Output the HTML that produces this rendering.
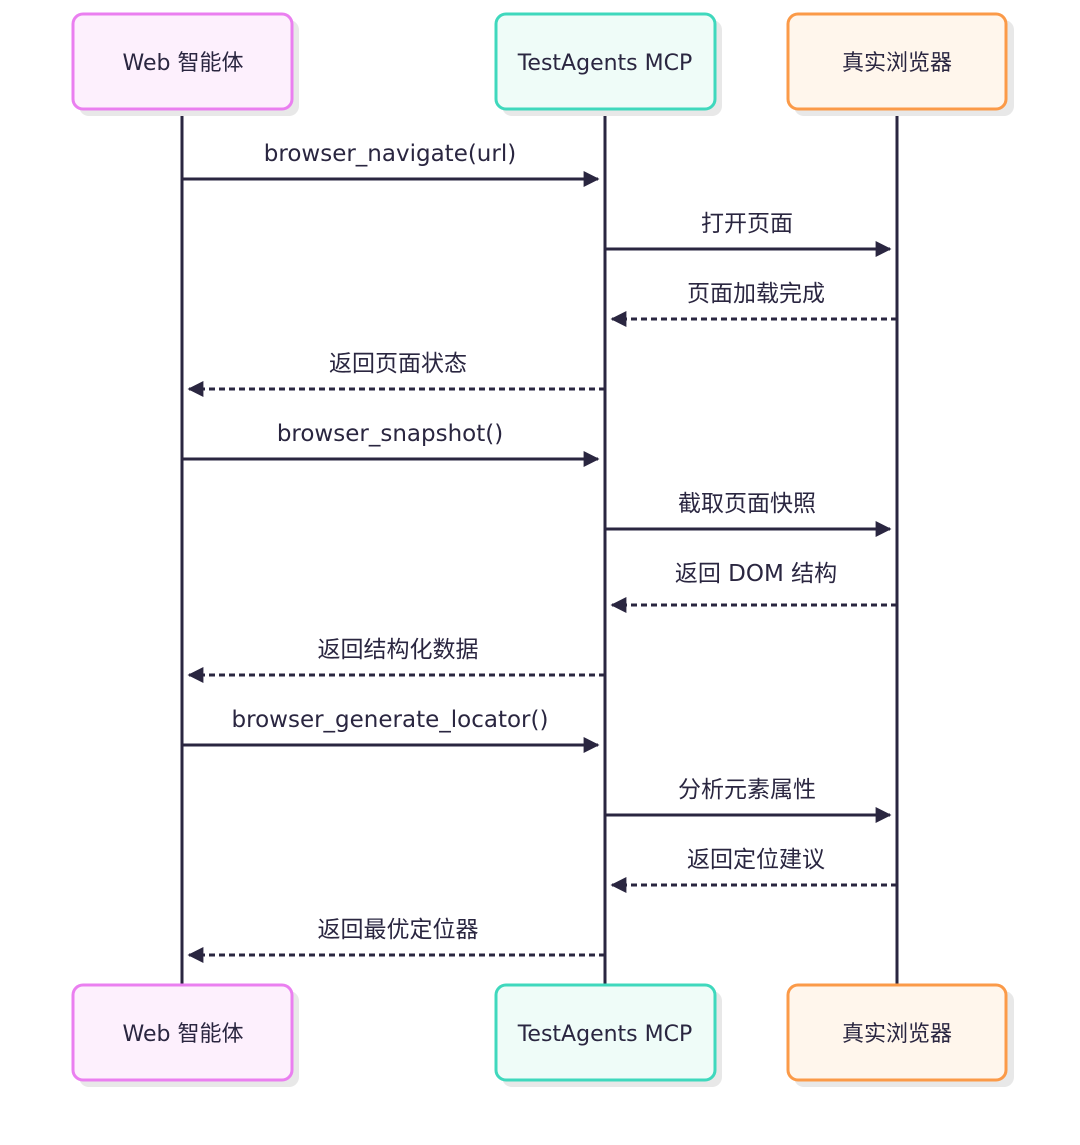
<!DOCTYPE html>
<html><head><meta charset="utf-8"><style>
html,body{margin:0;padding:0;background:#fff;}
svg text{font-family:"DejaVu Sans","Noto Sans CJK SC",sans-serif;fill:#2a2640;}
</style></head><body>
<svg width="1080" height="1140" viewBox="0 0 1080 1140" xmlns="http://www.w3.org/2000/svg">
<defs>
<marker id="a" viewBox="0 0 10 10" refX="9" refY="5" markerWidth="16" markerHeight="16" markerUnits="userSpaceOnUse" orient="auto"><path d="M0,0 L10,5 L0,10 z" fill="#2a2640"/></marker>
</defs>
<g stroke="#2a2640" stroke-width="3">
<line x1="182" y1="109" x2="182" y2="985"/>
<line x1="605" y1="109" x2="605" y2="985"/>
<line x1="897" y1="109" x2="897" y2="985"/>
</g>
<g fill="#e8e8e8">
<rect x="79" y="20" width="220" height="96" rx="10"/>
<rect x="502" y="20" width="220" height="96" rx="10"/>
<rect x="794" y="20" width="220" height="96" rx="10"/>
<rect x="79" y="991" width="220" height="96" rx="10"/>
<rect x="502" y="991" width="220" height="96" rx="10"/>
<rect x="794" y="991" width="220" height="96" rx="10"/>
</g>
<g stroke-width="3">
<rect x="73" y="14" width="219" height="95" rx="10" fill="#fdf0fd" stroke="#ea7ff0"/>
<rect x="496" y="14" width="219" height="95" rx="10" fill="#effcf8" stroke="#3fd8bd"/>
<rect x="788" y="14" width="218" height="95" rx="10" fill="#fff6ec" stroke="#fb9a48"/>
<rect x="73" y="985" width="219" height="95" rx="10" fill="#fdf0fd" stroke="#ea7ff0"/>
<rect x="496" y="985" width="219" height="95" rx="10" fill="#effcf8" stroke="#3fd8bd"/>
<rect x="788" y="985" width="218" height="95" rx="10" fill="#fff6ec" stroke="#fb9a48"/>
</g>
<g font-size="22" text-anchor="middle">
<text x="183" y="70">Web 智能体</text>
<text x="605" y="70">TestAgents MCP</text>
<text x="897" y="70">真实浏览器</text>
<text x="183" y="1041">Web 智能体</text>
<text x="605" y="1041">TestAgents MCP</text>
<text x="897" y="1041">真实浏览器</text>
</g>
<g stroke="#2a2640" stroke-width="3" marker-end="url(#a)">
<line x1="182" y1="179" x2="598" y2="179"/>
<line x1="605" y1="249" x2="890" y2="249"/>
<line x1="897" y1="319" x2="612" y2="319" stroke-dasharray="6,4"/>
<line x1="605" y1="389" x2="189" y2="389" stroke-dasharray="6,4"/>
<line x1="182" y1="459" x2="598" y2="459"/>
<line x1="605" y1="529" x2="890" y2="529"/>
<line x1="897" y1="605" x2="612" y2="605" stroke-dasharray="6,4"/>
<line x1="605" y1="675" x2="189" y2="675" stroke-dasharray="6,4"/>
<line x1="182" y1="745" x2="598" y2="745"/>
<line x1="605" y1="815" x2="890" y2="815"/>
<line x1="897" y1="885" x2="612" y2="885" stroke-dasharray="6,4"/>
<line x1="605" y1="955" x2="189" y2="955" stroke-dasharray="6,4"/>
</g>
<g font-size="23" text-anchor="middle">
<text x="390" y="161">browser_navigate(url)</text>
<text x="747" y="231">打开页面</text>
<text x="756" y="301">页面加载完成</text>
<text x="398" y="371">返回页面状态</text>
<text x="390" y="441">browser_snapshot()</text>
<text x="747" y="511">截取页面快照</text>
<text x="756" y="581">返回 DOM 结构</text>
<text x="398" y="657">返回结构化数据</text>
<text x="390" y="727">browser_generate_locator()</text>
<text x="747" y="797">分析元素属性</text>
<text x="756" y="867">返回定位建议</text>
<text x="398" y="937">返回最优定位器</text>
</g>
</svg>
</body></html>
